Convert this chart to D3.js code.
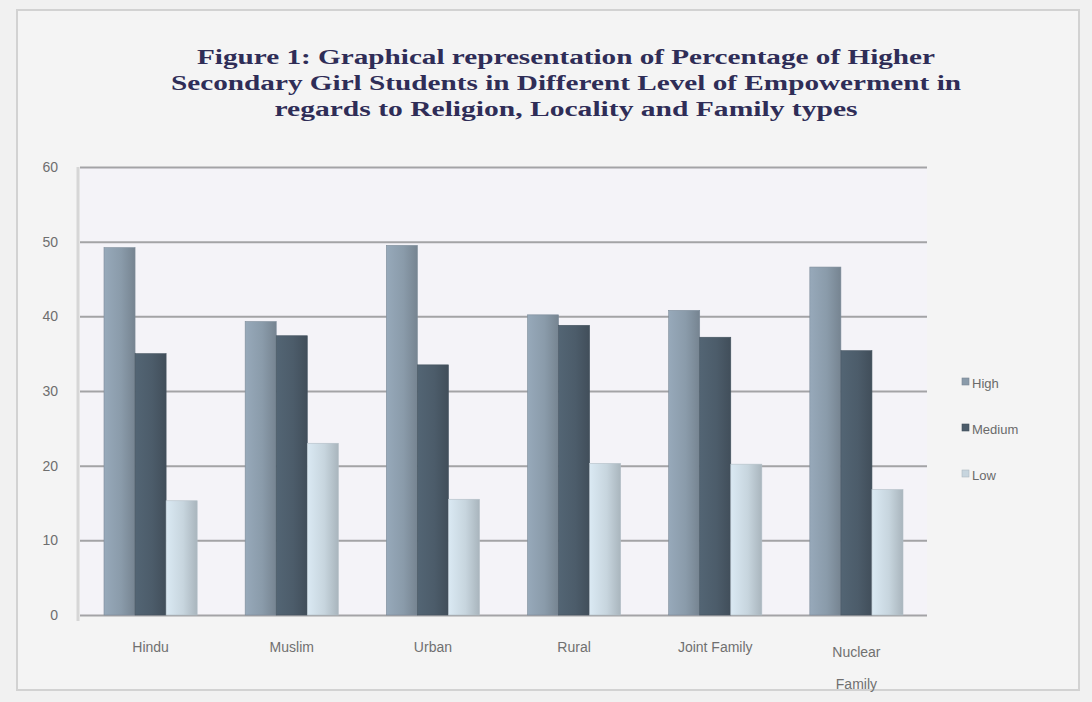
<!DOCTYPE html>
<html>
<head>
<meta charset="utf-8">
<script src="https://cdn.jsdelivr.net/npm/d3@7"></script>
<style>
  html, body { margin: 0; padding: 0; background: #f2f2f2; }
  svg { display: block; }
</style>
</head>
<body>
<svg id="chart" width="1092" height="702"></svg>
<script>
// Empowerment levels of higher secondary girl students (%)
const categories = ["Hindu", "Muslim", "Urban", "Rural", "Joint Family", "Nuclear Family"];
const seriesNames = ["High", "Medium", "Low"];
const highValues   = [49.2, 39.3, 49.5, 40.2, 40.8, 46.6];
const mediumValues = [35.0, 37.4, 33.5, 38.8, 37.2, 35.4];
const lowValues    = [15.3, 23.0, 15.5, 20.3, 20.2, 16.8];
const yTicks = [0, 10, 20, 30, 40, 50, 60];
const titleLines = [
  "Figure 1: Graphical representation of Percentage of Higher",
  "Secondary Girl Students in Different Level of Empowerment in",
  "regards to Religion, Locality and Family types"
];

const seriesValues = [highValues, mediumValues, lowValues];
const colors = ["#8a9baa", "#4c5c6a", "#c7d5de"];

const svg = d3.select("#chart");
const W = 1092, H = 702;

// page & frame
svg.append("rect").attr("width", W).attr("height", H).attr("fill", "#f1f1f1");
svg.append("rect")
  .attr("x", 17).attr("y", 10).attr("width", 1062).attr("height", 680)
  .attr("fill", "#f4f4f4").attr("stroke", "#d2d2d2").attr("stroke-width", 2);

const plot = { left: 80, right: 927, top: 167, bottom: 615 };

const x0 = d3.scaleBand().domain(categories).range([plot.left, plot.right]).paddingInner(0.34).paddingOuter(0.17);
const x1 = d3.scaleBand().domain(seriesNames).range([0, x0.bandwidth()]).padding(0);
const y = d3.scaleLinear().domain([0, 60]).range([plot.bottom, plot.top]);

// faint tinted plot background
svg.append("rect")
  .attr("x", plot.left).attr("y", plot.top)
  .attr("width", plot.right - plot.left).attr("height", plot.bottom - plot.top)
  .attr("fill", "#f4f3f8");

// gradients giving the bars their shaded look
const defs = svg.append("defs");
colors.forEach((c, i) => {
  const g = defs.append("linearGradient").attr("id", "bar" + i)
    .attr("x1", "0").attr("x2", "1").attr("y1", "0").attr("y2", "0");
  const base = d3.color(c);
  g.append("stop").attr("offset", "0%").attr("stop-color", base.brighter(0.25));
  g.append("stop").attr("offset", "55%").attr("stop-color", base);
  g.append("stop").attr("offset", "100%").attr("stop-color", base.darker(0.45));
});

// gridlines
svg.append("g")
  .attr("transform", `translate(${plot.left},0)`)
  .call(d3.axisRight(y).tickValues(yTicks).tickSize(plot.right - plot.left).tickFormat(""))
  .call(g => g.select(".domain").remove())
  .call(g => g.selectAll(".tick line").attr("stroke", "#a3a3a6").attr("stroke-width", 2));

// y axis line and labels
svg.append("line")
  .attr("x1", plot.left - 2).attr("x2", plot.left - 2)
  .attr("y1", plot.top).attr("y2", plot.bottom + 6)
  .attr("stroke", "#d6d6d6").attr("stroke-width", 3);

svg.append("g")
  .attr("transform", `translate(${plot.left - 18},0)`)
  .call(d3.axisLeft(y).tickValues(yTicks).tickSize(0).tickPadding(4))
  .call(g => g.select(".domain").remove())
  .call(g => g.selectAll("text")
    .attr("font-family", "Liberation Sans, Arial, sans-serif")
    .attr("font-size", 14).attr("fill", "#6e6e6e"));

// bars
const groups = svg.append("g").selectAll("g")
  .data(categories)
  .join("g")
  .attr("transform", d => `translate(${x0(d)},0)`);

groups.selectAll("rect")
  .data((d, i) => seriesNames.map((s, k) => ({ s, k, v: seriesValues[k][i] })))
  .join("rect")
  .attr("x", d => x1(d.s))
  .attr("width", x1.bandwidth())
  .attr("y", d => y(d.v))
  .attr("height", d => y(0) - y(d.v))
  .attr("fill", d => `url(#bar${d.k})`)
  .attr("stroke", d => d3.color(colors[d.k]).darker(0.3))
  .attr("stroke-width", 0.6);

// category labels
const xLabels = svg.append("g")
  .attr("transform", `translate(0,${plot.bottom})`)
  .call(d3.axisBottom(x0).tickSize(0).tickPadding(0))
  .call(g => g.select(".domain").remove());
xLabels.selectAll(".tick text").each(function (d) {
  const t = d3.select(this).text(null)
    .attr("font-family", "Liberation Sans, Arial, sans-serif")
    .attr("font-size", 14).attr("fill", "#707070")
    .attr("y", d === "Nuclear Family" ? 42 : 37).attr("dy", 0);
  const words = d === "Nuclear Family" ? ["Nuclear", "Family"] : [d];
  words.forEach((w, i) => t.append("tspan").attr("x", 0).attr("dy", i === 0 ? 0 : 32).text(w));
});

// legend
const legend = svg.append("g").attr("transform", "translate(962,383)");
seriesNames.forEach((s, i) => {
  const row = legend.append("g").attr("transform", `translate(0,${i * 46})`);
  row.append("rect").attr("x", 0).attr("y", -5).attr("width", 7).attr("height", 7)
    .attr("fill", colors[i]).attr("stroke", d3.color(colors[i]).darker(0.4)).attr("stroke-width", 0.6);
  row.append("text").attr("x", 10).attr("y", 0).attr("dy", "0.35em")
    .attr("font-family", "Liberation Sans, Arial, sans-serif")
    .attr("font-size", 13).attr("fill", "#6a6a6a").text(s);
});

// title
const titleWidths = [738, 790, 583];
const titleY = [57, 83, 109];
titleLines.forEach((line, i) => {
  svg.append("text")
    .attr("x", 566).attr("y", titleY[i]).attr("dy", "0.35em")
    .attr("text-anchor", "middle")
    .attr("font-family", "Liberation Serif, Times New Roman, serif")
    .attr("font-weight", "bold").attr("font-size", 20)
    .attr("fill", "#2f2d57")
    .attr("textLength", titleWidths[i]).attr("lengthAdjust", "spacingAndGlyphs")
    .text(line);
});
</script>
</body>
</html>
